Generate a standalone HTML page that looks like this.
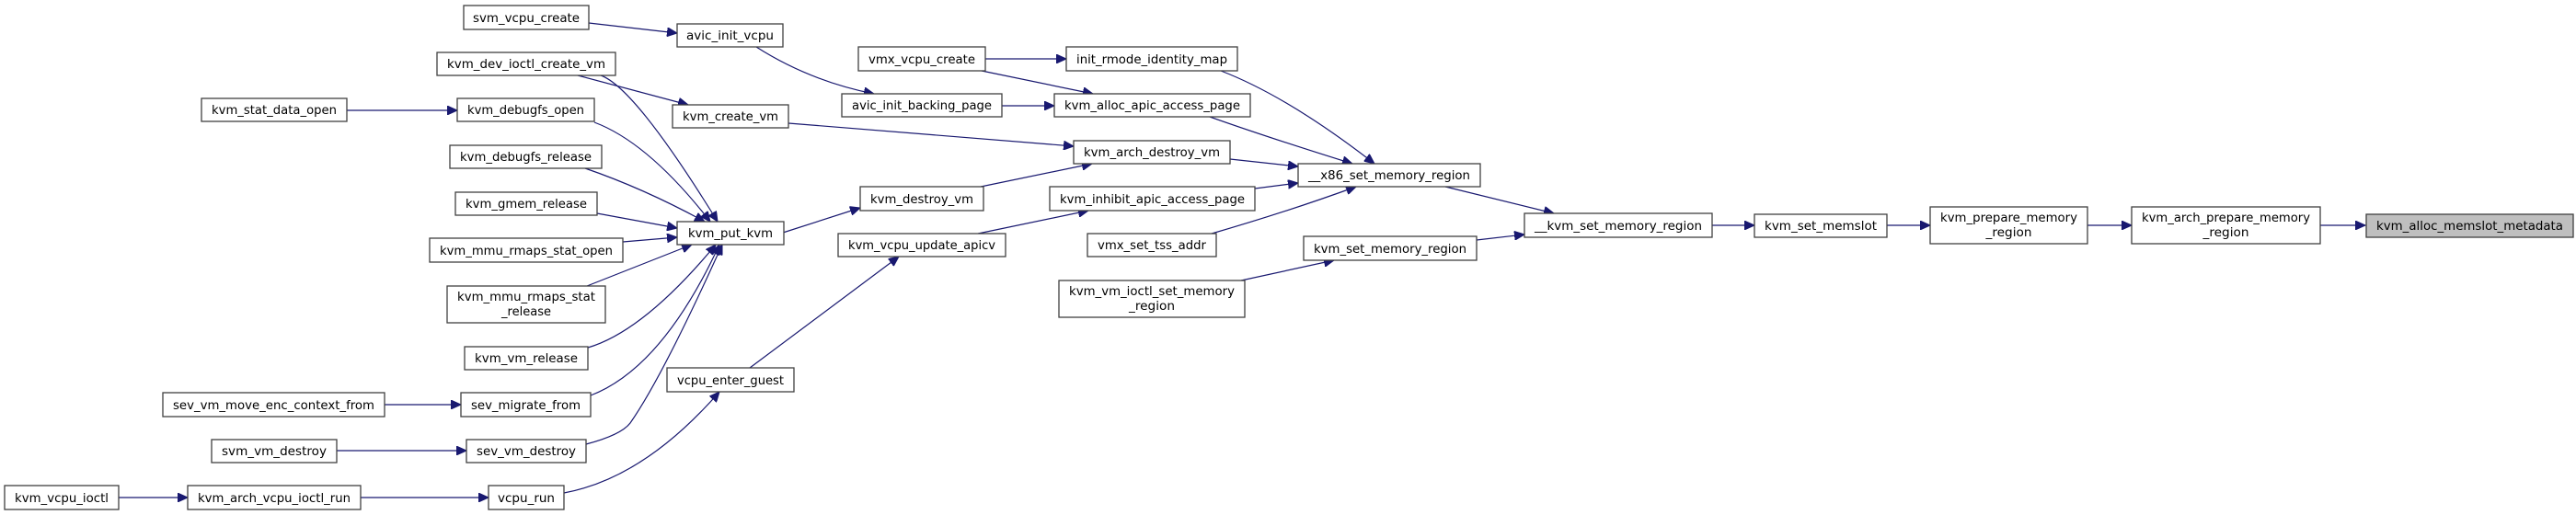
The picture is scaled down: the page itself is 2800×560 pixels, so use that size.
<!DOCTYPE html>
<html><head><meta charset="utf-8"><style>
html,body{margin:0;padding:0;background:#fff;}
svg{display:block;}
text{font-family:"DejaVu Sans","Liberation Sans",sans-serif;font-size:13px;fill:#000;}
.n{fill:#fff;stroke:#404040;stroke-width:1.3;}
.e{fill:none;stroke:#191970;stroke-width:1.2;marker-end:url(#a);}
</style></head><body>
<svg width="2800" height="560" viewBox="0 0 2800 560" xmlns="http://www.w3.org/2000/svg">
<defs><marker id="a" markerUnits="userSpaceOnUse" markerWidth="12" markerHeight="10" refX="11" refY="5" orient="auto"><path d="M0,0 L11,5 L0,10 Z" fill="#191970" stroke="#191970"/></marker></defs>
<g>
<path class="e" d="M640,25 L736,36"/>
<path class="e" d="M822,51 Q880,88 950,102"/>
<path class="e" d="M628,82 L748,114"/>
<path class="e" d="M653,82 Q690,95 780,241"/>
<path class="e" d="M377,120 L497,120"/>
<path class="e" d="M646,133 Q705,155 772,241"/>
<path class="e" d="M636,183 Q700,205 766,241"/>
<path class="e" d="M649,232 L736,248"/>
<path class="e" d="M677,263 L736,258"/>
<path class="e" d="M638,311 L752,266"/>
<path class="e" d="M639,378 Q700,360 778,266"/>
<path class="e" d="M418,440 L501,440"/>
<path class="e" d="M642,430 Q720,400 782,266"/>
<path class="e" d="M366,490 L507,490"/>
<path class="e" d="M637,483 Q675,473 685,460 Q720,410 785,266"/>
<path class="e" d="M129,541 L204,541"/>
<path class="e" d="M392,541 L531,541"/>
<path class="e" d="M613,536 Q700,520 782,426"/>
<path class="e" d="M815,400 L977,279"/>
<path class="e" d="M851,253 L935,226"/>
<path class="e" d="M857,134 L1167,159"/>
<path class="e" d="M1066,203 L1187,178"/>
<path class="e" d="M1071,64 L1159,64"/>
<path class="e" d="M1067,77 L1188,102"/>
<path class="e" d="M1089,115 L1146,115"/>
<path class="e" d="M1063,254 L1183,229"/>
<path class="e" d="M1327,77 Q1400,105 1494,178"/>
<path class="e" d="M1315,127 Q1380,150 1470,178"/>
<path class="e" d="M1337,173 L1411,181"/>
<path class="e" d="M1364,205 L1411,199"/>
<path class="e" d="M1317,254 Q1400,230 1474,203"/>
<path class="e" d="M1571,203 L1689,232"/>
<path class="e" d="M1605,261 L1657,255"/>
<path class="e" d="M1349,305 L1450,283"/>
<path class="e" d="M1861,245 L1907,245"/>
<path class="e" d="M2051,245 L2098,245"/>
<path class="e" d="M2269,245 L2317,245"/>
<path class="e" d="M2522,245 L2571,245"/>
</g>
<g>
<rect class="n" x="504" y="6" width="136" height="26"/><text x="572" y="24" text-anchor="middle" textLength="116" lengthAdjust="spacingAndGlyphs">svm_vcpu_create</text>
<rect class="n" x="736" y="26" width="115" height="25"/><text x="793.5" y="43" text-anchor="middle" textLength="95" lengthAdjust="spacingAndGlyphs">avic_init_vcpu</text>
<rect class="n" x="475" y="57" width="194" height="25"/><text x="572" y="74" text-anchor="middle" textLength="172" lengthAdjust="spacingAndGlyphs">kvm_dev_ioctl_create_vm</text>
<rect class="n" x="219" y="107" width="158" height="25"/><text x="298" y="124" text-anchor="middle" textLength="136" lengthAdjust="spacingAndGlyphs">kvm_stat_data_open</text>
<rect class="n" x="497" y="107" width="149" height="25"/><text x="571.5" y="124" text-anchor="middle" textLength="127" lengthAdjust="spacingAndGlyphs">kvm_debugfs_open</text>
<rect class="n" x="731" y="114" width="126" height="25"/><text x="794" y="131" text-anchor="middle" textLength="104" lengthAdjust="spacingAndGlyphs">kvm_create_vm</text>
<rect class="n" x="489" y="158" width="165" height="25"/><text x="571.5" y="175" text-anchor="middle" textLength="143" lengthAdjust="spacingAndGlyphs">kvm_debugfs_release</text>
<rect class="n" x="495" y="209" width="154" height="25"/><text x="572" y="226" text-anchor="middle" textLength="132" lengthAdjust="spacingAndGlyphs">kvm_gmem_release</text>
<rect class="n" x="736" y="241" width="116" height="25"/><text x="794" y="258" text-anchor="middle" textLength="92" lengthAdjust="spacingAndGlyphs">kvm_put_kvm</text>
<rect class="n" x="467" y="259" width="210" height="26"/><text x="572" y="277" text-anchor="middle" textLength="188" lengthAdjust="spacingAndGlyphs">kvm_mmu_rmaps_stat_open</text>
<rect class="n" x="486" y="311" width="172" height="40"/><text x="572" y="327" text-anchor="middle" textLength="150" lengthAdjust="spacingAndGlyphs">kvm_mmu_rmaps_stat</text><text x="572" y="343" text-anchor="middle" textLength="54" lengthAdjust="spacingAndGlyphs">_release</text>
<rect class="n" x="505" y="377" width="134" height="25"/><text x="572" y="394" text-anchor="middle" textLength="112" lengthAdjust="spacingAndGlyphs">kvm_vm_release</text>
<rect class="n" x="725" y="400" width="138" height="26"/><text x="794" y="418" text-anchor="middle" textLength="116" lengthAdjust="spacingAndGlyphs">vcpu_enter_guest</text>
<rect class="n" x="177" y="427" width="241" height="26"/><text x="297.5" y="445" text-anchor="middle" textLength="219" lengthAdjust="spacingAndGlyphs">sev_vm_move_enc_context_from</text>
<rect class="n" x="501" y="427" width="141" height="26"/><text x="571.5" y="445" text-anchor="middle" textLength="119" lengthAdjust="spacingAndGlyphs">sev_migrate_from</text>
<rect class="n" x="230" y="478" width="136" height="25"/><text x="298" y="495" text-anchor="middle" textLength="114" lengthAdjust="spacingAndGlyphs">svm_vm_destroy</text>
<rect class="n" x="507" y="478" width="130" height="25"/><text x="572" y="495" text-anchor="middle" textLength="108" lengthAdjust="spacingAndGlyphs">sev_vm_destroy</text>
<rect class="n" x="5" y="528" width="124" height="26"/><text x="67" y="546" text-anchor="middle" textLength="102" lengthAdjust="spacingAndGlyphs">kvm_vcpu_ioctl</text>
<rect class="n" x="204" y="528" width="188" height="26"/><text x="298" y="546" text-anchor="middle" textLength="166" lengthAdjust="spacingAndGlyphs">kvm_arch_vcpu_ioctl_run</text>
<rect class="n" x="531" y="528" width="82" height="26"/><text x="572" y="546" text-anchor="middle" textLength="62" lengthAdjust="spacingAndGlyphs">vcpu_run</text>
<rect class="n" x="933" y="51" width="138" height="26"/><text x="1002" y="69" text-anchor="middle" textLength="116" lengthAdjust="spacingAndGlyphs">vmx_vcpu_create</text>
<rect class="n" x="1159" y="51" width="186" height="26"/><text x="1252" y="69" text-anchor="middle" textLength="164" lengthAdjust="spacingAndGlyphs">init_rmode_identity_map</text>
<rect class="n" x="915" y="102" width="174" height="25"/><text x="1002" y="119" text-anchor="middle" textLength="152" lengthAdjust="spacingAndGlyphs">avic_init_backing_page</text>
<rect class="n" x="1146" y="102" width="213" height="25"/><text x="1252.5" y="119" text-anchor="middle" textLength="191" lengthAdjust="spacingAndGlyphs">kvm_alloc_apic_access_page</text>
<rect class="n" x="1167" y="153" width="170" height="25"/><text x="1252" y="170" text-anchor="middle" textLength="148" lengthAdjust="spacingAndGlyphs">kvm_arch_destroy_vm</text>
<rect class="n" x="1411" y="178" width="198" height="25"/><text x="1510" y="195" text-anchor="middle" textLength="176" lengthAdjust="spacingAndGlyphs">__x86_set_memory_region</text>
<rect class="n" x="935" y="203" width="134" height="26"/><text x="1002" y="221" text-anchor="middle" textLength="112" lengthAdjust="spacingAndGlyphs">kvm_destroy_vm</text>
<rect class="n" x="1141" y="203" width="223" height="26"/><text x="1252.5" y="221" text-anchor="middle" textLength="201" lengthAdjust="spacingAndGlyphs">kvm_inhibit_apic_access_page</text>
<rect class="n" x="1657" y="232" width="204" height="26"/><text x="1759" y="250" text-anchor="middle" textLength="182" lengthAdjust="spacingAndGlyphs">__kvm_set_memory_region</text>
<rect class="n" x="911" y="254" width="182" height="25"/><text x="1002" y="271" text-anchor="middle" textLength="160" lengthAdjust="spacingAndGlyphs">kvm_vcpu_update_apicv</text>
<rect class="n" x="1182" y="254" width="140" height="25"/><text x="1252" y="271" text-anchor="middle" textLength="118" lengthAdjust="spacingAndGlyphs">vmx_set_tss_addr</text>
<rect class="n" x="1417" y="257" width="188" height="26"/><text x="1511" y="275" text-anchor="middle" textLength="166" lengthAdjust="spacingAndGlyphs">kvm_set_memory_region</text>
<rect class="n" x="1151" y="305" width="202" height="40"/><text x="1252" y="321" text-anchor="middle" textLength="180" lengthAdjust="spacingAndGlyphs">kvm_vm_ioctl_set_memory</text><text x="1252" y="337" text-anchor="middle" textLength="50" lengthAdjust="spacingAndGlyphs">_region</text>
<rect class="n" x="1907" y="233" width="144" height="25"/><text x="1979" y="250" text-anchor="middle" textLength="122" lengthAdjust="spacingAndGlyphs">kvm_set_memslot</text>
<rect class="n" x="2098" y="225" width="171" height="40"/><text x="2183.5" y="241" text-anchor="middle" textLength="149" lengthAdjust="spacingAndGlyphs">kvm_prepare_memory</text><text x="2183.5" y="257" text-anchor="middle" textLength="50" lengthAdjust="spacingAndGlyphs">_region</text>
<rect class="n" x="2317" y="225" width="205" height="40"/><text x="2419.5" y="241" text-anchor="middle" textLength="183" lengthAdjust="spacingAndGlyphs">kvm_arch_prepare_memory</text><text x="2419.5" y="257" text-anchor="middle" textLength="50" lengthAdjust="spacingAndGlyphs">_region</text>
<rect class="n" x="2572" y="233" width="225" height="25" style="fill:#bfbfbf"/><text x="2684.5" y="250" text-anchor="middle" textLength="203" lengthAdjust="spacingAndGlyphs">kvm_alloc_memslot_metadata</text>
</g>
</svg>
</body></html>
